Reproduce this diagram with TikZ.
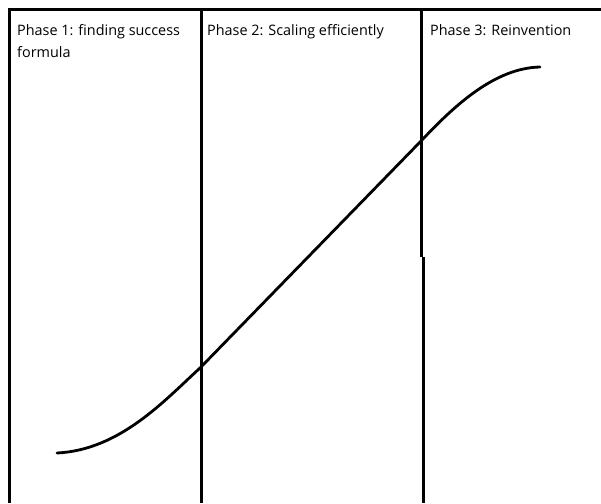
\documentclass[tikz,border=0pt]{standalone}
\usepackage{fontspec}
\setmainfont{Open Sans}
\usepackage{tikz}
\usetikzlibrary{positioning}

\tikzset{
    phase/.style={anchor=base west, inner sep=0pt, align=left,
        font=\fontsize{14.4}{22.5}\selectfont},
    stroke/.style={line width=3pt},
}

\begin{document}
\begin{tikzpicture}[x=1pt,y=-1pt]
    \useasboundingbox (0,0) rectangle (601,503);
    % frame and phase dividers
    \draw[stroke] (9.5,503) -- (9.5,9.5) -- (601,9.5);
    \draw[stroke] (201,9.5) -- (201,503);
    \draw[stroke] (421,9.5) -- (421,257);
    \draw[stroke] (423,257) -- (423,503);
    % phase labels
    \node[phase] (P1) at (17,35) {Phase 1: finding success};
    \node[phase] (P1b) at (17,57.5) {formula};
    \node[phase] (P2) at (207,35) {Phase 2: Scaling efficiently};
    \node[phase] (P3) at (430,35) {Phase 3: Reinvention};
    % growth curve
    \draw[line width=2.8pt, line cap=round]
        (57,453) .. controls (120,450) and (165,400) .. (200,368)
        -- (422,140) .. controls (455,105) and (495,68) .. (540,67);
\end{tikzpicture}
\end{document}
